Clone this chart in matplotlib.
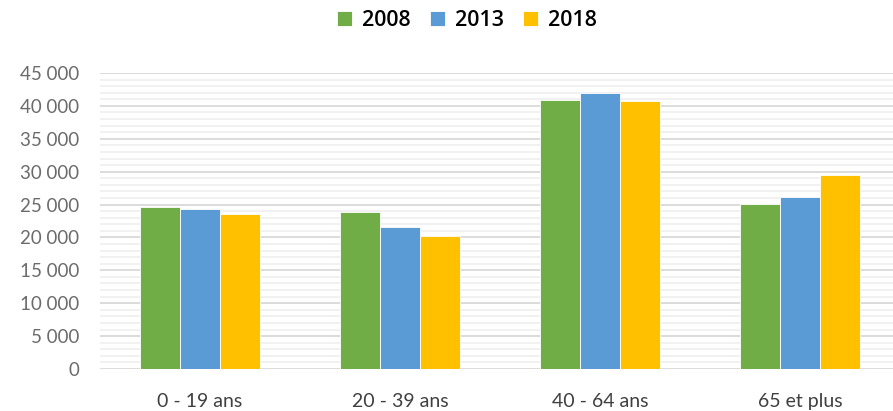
import matplotlib
matplotlib.use("Agg")
import matplotlib.pyplot as plt
import numpy as np
from matplotlib.ticker import MultipleLocator, FuncFormatter

categories = ["0 - 19 ans", "20 - 39 ans", "40 - 64 ans", "65 et plus"]
series_names = ["2008", "2013", "2018"]
v2008 = [24650, 23860, 40880, 25030]
v2013 = [24270, 21580, 42000, 26090]
v2018 = [23560, 20210, 40730, 29440]
colors = ["#70AD47", "#5B9BD5", "#FFC000"]

fig = plt.figure(figsize=(8.93, 4.11), dpi=100)
ax = fig.add_axes([100/893, 42/411, 1 - 100/893, (369-73)/411])

x = np.arange(len(categories))
w = 0.2
for i, (vals, name, c) in enumerate(zip([v2008, v2013, v2018], series_names, colors)):
    ax.bar(x + (i - 1) * w, vals, width=w, color=c, label=name,
           edgecolor="white", linewidth=0.6, zorder=3)

ax.set_ylim(0, 45000)
ax.set_xlim(-0.5, 3.465)
ax.yaxis.set_major_locator(MultipleLocator(5000))
ax.yaxis.set_minor_locator(MultipleLocator(1000))
ax.yaxis.set_major_formatter(FuncFormatter(lambda v, p: f"{int(v):,}".replace(",", " ")))
ax.grid(axis="y", which="major", color="#d9d9d9", linewidth=1.3, zorder=0)
ax.grid(axis="y", which="minor", color="#f0f0f0", linewidth=1.3, zorder=0)
for s in ax.spines.values():
    s.set_visible(False)
ax.tick_params(axis="both", which="both", length=0)
ax.tick_params(axis="y", labelsize=13.5, labelcolor="#6b6b6b", pad=15)
ax.tick_params(axis="x", labelsize=14, labelcolor="#404040", pad=17)
ax.set_xticks(x)
ax.set_xticklabels(categories)
for lab in ax.get_yticklabels() + ax.get_xticklabels():
    lab.set_family(["Lato", "DejaVu Sans"])
    lab.set_fontweight("normal")

leg = fig.legend(loc="center", bbox_to_anchor=(467/893, 1 - 21/411), ncol=3,
                 frameon=False, handlelength=0.7, handleheight=0.7,
                 handletextpad=0.45, columnspacing=0.9,
                 prop={"family": ["Open Sans", "DejaVu Sans"], "size": 15.5, "weight": "semibold"})

fig.savefig("out.png", dpi=100)
